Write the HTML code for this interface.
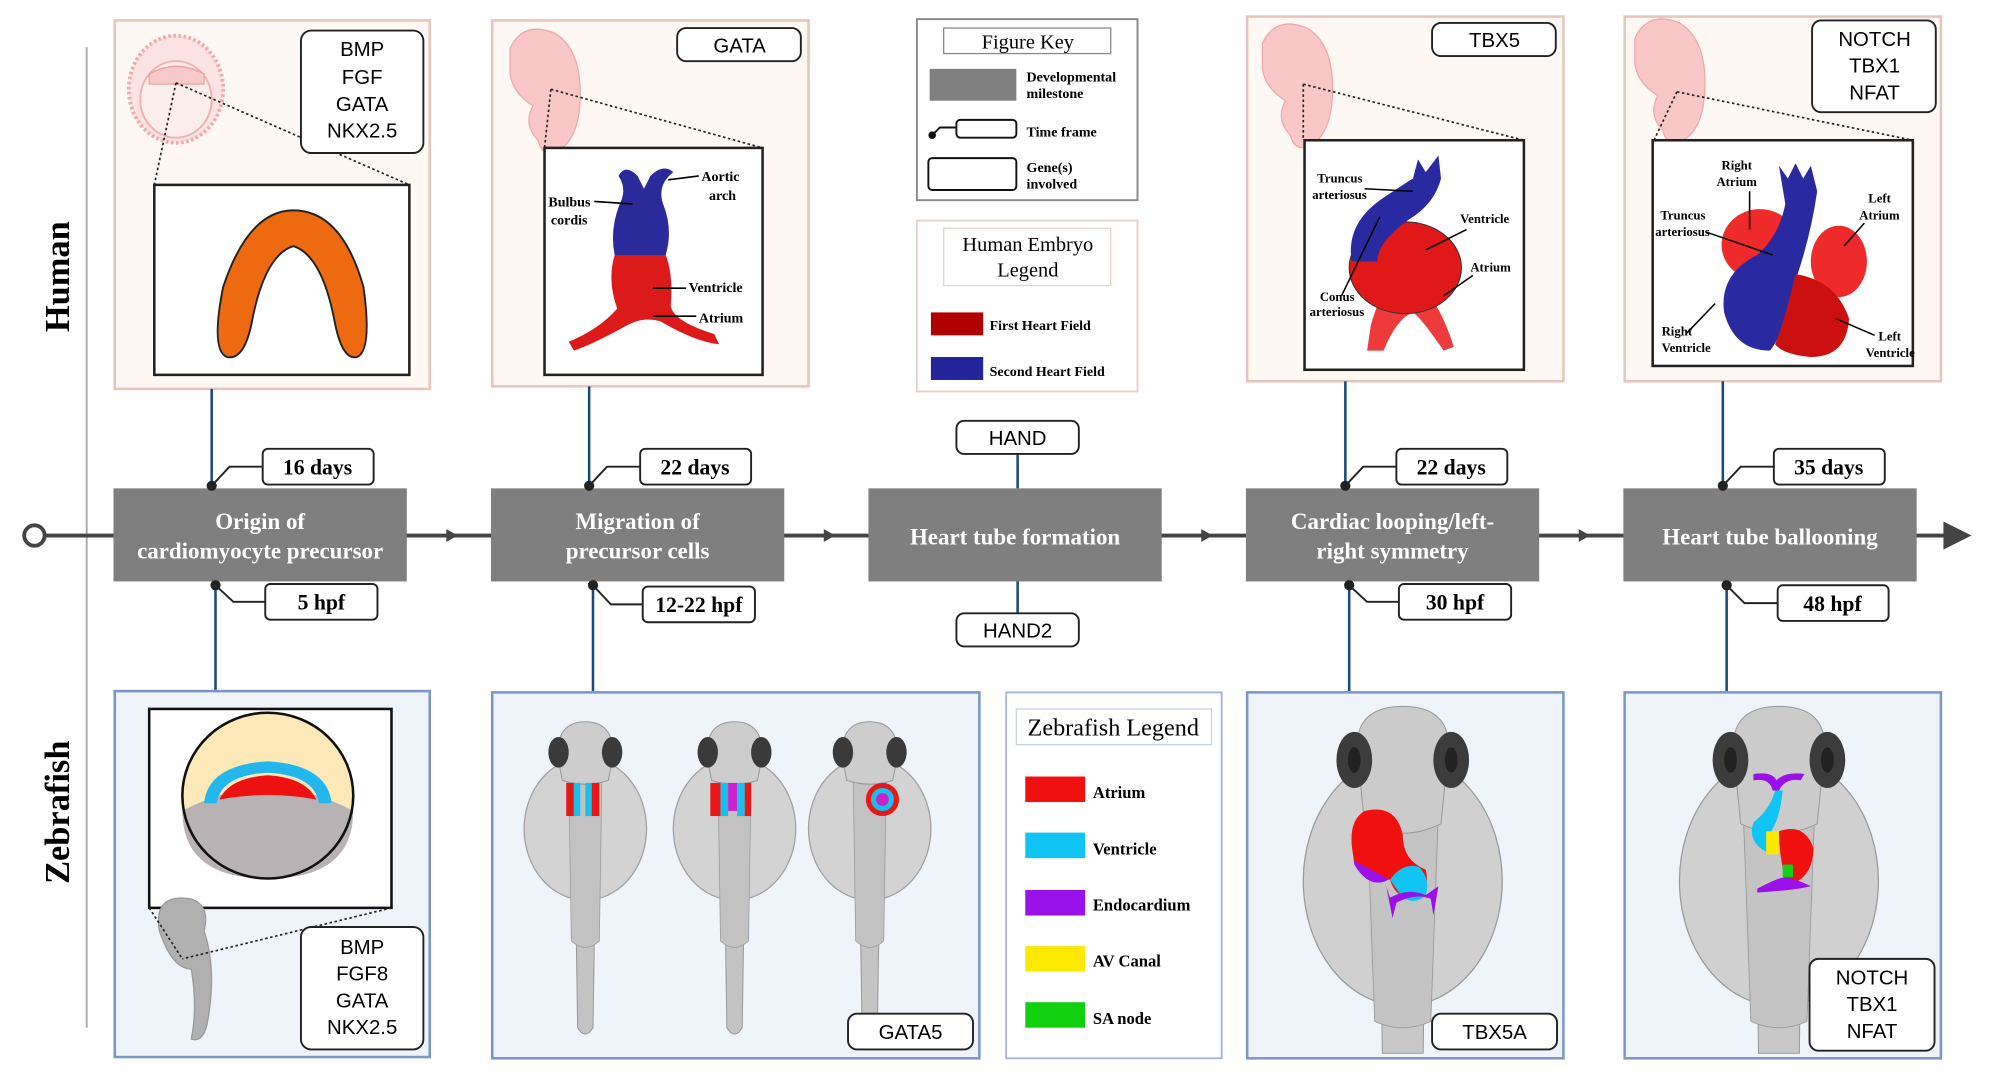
<!DOCTYPE html>
<html><head><meta charset="utf-8"><style>
html,body{margin:0;padding:0;background:#fff;}
svg{display:block;}
.ser{font-family:"Liberation Serif",serif;}
.san{font-family:"Liberation Sans",sans-serif;}
</style></head><body>
<svg width="1997" height="1080" viewBox="0 0 1566 847" preserveAspectRatio="none" xmlns="http://www.w3.org/2000/svg">
<defs>
<g id="fish">
 <path d="M-8,100 L-6,228 Q0,238 6,228 L8,100 Z" fill="#c4c4c4" stroke="#999" stroke-width="0.8"/>
 <ellipse cx="0" cy="72" rx="48" ry="56" fill="#d3d3d3" stroke="#a0a0a0" stroke-width="1"/>
 <path d="M-13,30 L-11,160 Q0,170 11,160 L13,30 Z" fill="#c2c2c2" stroke="#999" stroke-width="0.6"/>
 <path d="M-22,14 Q-22,-12 0,-12 Q22,-12 22,14 L18,34 Q0,40 -18,34 Z" fill="#cdcdcd" stroke="#999" stroke-width="0.8"/>
 <ellipse cx="-21" cy="12" rx="8" ry="12" fill="#3a3a3a"/>
 <ellipse cx="21" cy="12" rx="8" ry="12" fill="#3a3a3a"/>
</g>
<g id="bigfish">
 <path d="M-18,120 L-16,260 L16,260 L18,120 Z" fill="#c8c8c8" stroke="#999" stroke-width="0.8"/>
 <ellipse cx="0" cy="125" rx="78" ry="98" fill="#d0d0d0" stroke="#9a9a9a" stroke-width="1"/>
 <path d="M-28,70 L-22,235 Q0,245 22,235 L28,70 Z" fill="#c4c4c4" stroke="#9a9a9a" stroke-width="0.7"/>
 <path d="M-36,20 Q-36,-12 0,-12 Q36,-12 36,20 L30,80 Q0,95 -30,80 Z" fill="#cbcbcb" stroke="#999" stroke-width="0.8"/>
 <ellipse cx="-38" cy="30" rx="14" ry="22" fill="#3c3c3c"/>
 <ellipse cx="38" cy="30" rx="14" ry="22" fill="#3c3c3c"/>
 <ellipse cx="-38" cy="30" rx="5" ry="10" fill="#222"/>
 <ellipse cx="38" cy="30" rx="5" ry="10" fill="#222"/>
</g>
<g id="embryo">
 <path d="M0,10 Q10,-12 35,-2 Q55,10 55,45 Q55,80 38,90 Q25,96 22,82 Q10,70 18,55 Q2,45 0,30 Z" fill="#f9c7c7" stroke="#efa9a9" stroke-width="1"/>
</g>
</defs>

<line x1="68" y1="37" x2="68" y2="806" stroke="#a9a9a9" stroke-width="1.5"/>
<text class="ser" font-weight="bold" font-size="27" transform="translate(54,217) rotate(-90)" text-anchor="middle">Human</text>
<text class="ser" font-weight="bold" font-size="27" transform="translate(54,637) rotate(-90)" text-anchor="middle">Zebrafish</text>

<line x1="36" y1="420" x2="1528" y2="420" stroke="#444" stroke-width="3"/>
<circle cx="27" cy="420" r="8" fill="#fff" stroke="#444" stroke-width="3"/>
<polygon points="1524,409 1546,420 1524,431" fill="#444"/>
<polygon points="350,415 359,420 350,425" fill="#444"/>
<polygon points="646,415 655,420 646,425" fill="#444"/>
<polygon points="942,415 951,420 942,425" fill="#444"/>
<polygon points="1238,415 1247,420 1238,425" fill="#444"/>

<rect x="90" y="16" width="247" height="289" fill="#fdf8f4" stroke="#e6c6bb" stroke-width="2"/>
<rect x="386" y="16" width="248" height="287" fill="#fdf8f4" stroke="#e6c6bb" stroke-width="2"/>
<rect x="978" y="13" width="248" height="286" fill="#fdf8f4" stroke="#e6c6bb" stroke-width="2"/>
<rect x="1274" y="13" width="248" height="286" fill="#fdf8f4" stroke="#e6c6bb" stroke-width="2"/>

<ellipse cx="138" cy="70" rx="37" ry="42" fill="#fbe3e3" stroke="#f0a8a8" stroke-width="3" stroke-dasharray="2 2"/>
<ellipse cx="138" cy="78" rx="28" ry="30" fill="#fdeeee" stroke="#f2b0b0" stroke-width="1.5"/>
<path d="M117,58 Q138,46 160,58 L160,66 L117,66 Z" fill="#f6caca" stroke="#eea0a0"/>
<line x1="138" y1="65" x2="121" y2="145" stroke="#222" stroke-width="1.3" stroke-dasharray="2 2"/>
<line x1="138" y1="65" x2="321" y2="145" stroke="#222" stroke-width="1.3" stroke-dasharray="2 2"/>
<rect x="236" y="24" width="96" height="96" rx="8" fill="#fff" stroke="#222" stroke-width="1.5"/>
<text class="san" font-size="16" text-anchor="middle"><tspan x="284" y="44">BMP</tspan><tspan x="284" y="66">FGF</tspan><tspan x="284" y="87">GATA</tspan><tspan x="284" y="108">NKX2.5</tspan></text>
<rect x="121" y="145" width="200" height="149" fill="#fff" stroke="#222" stroke-width="2"/>
<path d="M178,280 Q165,275 175,225 Q195,165 230,165 Q268,165 285,225 Q292,275 280,280 Q268,283 262,250 Q252,200 230,193 Q208,200 198,250 Q192,283 178,280 Z" fill="#ee6a10" stroke="#222" stroke-width="1.5"/>

<use href="#embryo" x="400" y="28"/>
<line x1="432" y1="70" x2="427" y2="116" stroke="#222" stroke-width="1.3" stroke-dasharray="2 2"/>
<line x1="432" y1="70" x2="598" y2="116" stroke="#222" stroke-width="1.3" stroke-dasharray="2 2"/>
<rect x="531" y="22" width="97" height="26" rx="7" fill="#fff" stroke="#222" stroke-width="1.5"/>
<text class="san" font-size="16" x="580" y="41" text-anchor="middle">GATA</text>
<rect x="427" y="116" width="171" height="178" fill="#fff" stroke="#222" stroke-width="2"/>
<path d="M485,138 Q490,128 500,138 L505,148 L510,138 Q520,128 528,135 Q515,145 520,160 Q528,180 522,200 L482,200 Q478,180 486,160 Q492,148 485,138 Z" fill="#2a2a9a"/>
<path d="M482,200 L522,200 Q528,215 526,240 Q528,252 560,262 L564,270 Q545,268 518,252 Q505,248 492,255 Q465,270 450,275 L446,268 Q470,258 484,242 Q476,220 482,200 Z" fill="#dd1a1a"/>
<g class="ser" font-size="11" font-weight="bold"><text x="550" y="142">Aortic</text><text x="556" y="157">arch</text><text x="430" y="162">Bulbus</text><text x="432" y="176">cordis</text><text x="540" y="229">Ventricle</text><text x="548" y="253">Atrium</text></g>
<g stroke="#000" stroke-width="1.3"><line x1="524" y1="141" x2="548" y2="138"/><line x1="466" y1="158" x2="496" y2="160"/><line x1="512" y1="226" x2="538" y2="226"/><line x1="512" y1="248" x2="546" y2="248"/></g>

<use href="#embryo" x="990" y="24"/>
<line x1="1022" y1="66" x2="1022" y2="110" stroke="#222" stroke-width="1.3" stroke-dasharray="2 2"/>
<line x1="1022" y1="66" x2="1195" y2="110" stroke="#222" stroke-width="1.3" stroke-dasharray="2 2"/>
<rect x="1123" y="18" width="97" height="26" rx="7" fill="#fff" stroke="#222" stroke-width="1.5"/>
<text class="san" font-size="16" x="1172" y="37" text-anchor="middle">TBX5</text>
<rect x="1023" y="110" width="172" height="180" fill="#fff" stroke="#222" stroke-width="2"/>
<path d="M1075,255 Q1082,230 1090,225 L1115,225 Q1130,240 1140,272 L1132,275 Q1115,250 1108,245 Q1095,250 1085,275 L1072,275 Z" fill="#ee3a3a"/>
<ellipse cx="1102" cy="210" rx="44" ry="36" fill="#e01818" stroke="#333" stroke-width="0.8"/>
<path d="M1060,205 Q1055,175 1085,155 Q1100,145 1108,140 L1112,125 L1118,135 L1128,122 L1130,140 Q1125,160 1105,172 Q1080,190 1080,205 Z" fill="#2a2aa0"/>
<g class="ser" font-size="10" font-weight="bold"><text x="1033" y="143">Truncus</text><text x="1029" y="156">arteriosus</text><text x="1145" y="175">Ventricle</text><text x="1153" y="213">Atrium</text><text x="1035" y="236">Conus</text><text x="1027" y="248">arteriosus</text></g>
<g stroke="#000" stroke-width="1.2"><line x1="1070" y1="148" x2="1108" y2="150"/><line x1="1150" y1="180" x2="1118" y2="196"/><line x1="1155" y1="216" x2="1132" y2="232"/><line x1="1052" y1="232" x2="1082" y2="170"/></g>

<use href="#embryo" x="1282" y="20"/>
<line x1="1315" y1="72" x2="1297" y2="110" stroke="#222" stroke-width="1.3" stroke-dasharray="2 2"/>
<line x1="1315" y1="72" x2="1500" y2="110" stroke="#222" stroke-width="1.3" stroke-dasharray="2 2"/>
<rect x="1421" y="16" width="97" height="72" rx="7" fill="#fff" stroke="#222" stroke-width="1.5"/>
<text class="san" font-size="16" text-anchor="middle"><tspan x="1470" y="36">NOTCH</tspan><tspan x="1470" y="57">TBX1</tspan><tspan x="1470" y="78">NFAT</tspan></text>
<rect x="1296" y="110" width="204" height="177" fill="#fff" stroke="#222" stroke-width="2"/>
<ellipse cx="1380" cy="192" rx="30" ry="28" fill="#ee2a2a"/>
<ellipse cx="1442" cy="205" rx="22" ry="28" fill="#ee2a2a"/>
<path d="M1378,200 Q1395,185 1400,160 L1395,130 L1402,140 L1408,128 L1414,140 L1420,130 L1425,150 Q1420,185 1408,220 Q1400,260 1388,275 Q1360,275 1352,245 Q1348,215 1378,200 Z" fill="#2a2aa0"/>
<path d="M1408,215 Q1440,220 1450,250 Q1448,280 1420,280 Q1398,278 1392,270 Q1400,250 1408,215 Z" fill="#cc1010"/>
<g class="ser" font-size="10" font-weight="bold"><text x="1350" y="133">Right</text><text x="1346" y="146">Atrium</text><text x="1465" y="159">Left</text><text x="1458" y="172">Atrium</text><text x="1302" y="172">Truncus</text><text x="1298" y="185">arteriosus</text><text x="1303" y="263">Right</text><text x="1303" y="276">Ventricle</text><text x="1473" y="267">Left</text><text x="1463" y="280">Ventricle</text></g>
<g stroke="#000" stroke-width="1.2"><line x1="1372" y1="150" x2="1372" y2="180"/><line x1="1338" y1="182" x2="1390" y2="200"/><line x1="1462" y1="175" x2="1446" y2="193"/><line x1="1322" y1="262" x2="1345" y2="238"/><line x1="1470" y1="263" x2="1440" y2="250"/></g>

<g stroke="#1a4a7a" stroke-width="2"><line x1="166" y1="305" x2="166" y2="381"/><line x1="462" y1="303" x2="462" y2="381"/><line x1="1055" y1="299" x2="1055" y2="381"/><line x1="1351" y1="299" x2="1351" y2="381"/><line x1="798" y1="356" x2="798" y2="383"/><line x1="798" y1="456" x2="798" y2="481"/></g>
<g stroke="#1a4a7a" stroke-width="2"><line x1="169" y1="459" x2="169" y2="541"/><line x1="465" y1="459" x2="465" y2="542"/><line x1="1058" y1="459" x2="1058" y2="542"/><line x1="1354" y1="459" x2="1354" y2="542"/></g>

<g fill="#7f7f7f"><rect x="89" y="383" width="230" height="73"/><rect x="385" y="383" width="230" height="73"/><rect x="681" y="383" width="230" height="73"/><rect x="977" y="383" width="230" height="73"/><rect x="1273" y="383" width="230" height="73"/></g>
<g class="ser" font-size="18" font-weight="bold" fill="#fff" text-anchor="middle">
<text x="204" y="415">Origin of</text><text x="204" y="438">cardiomyocyte precursor</text>
<text x="500" y="415">Migration of</text><text x="500" y="438">precursor cells</text>
<text x="796" y="427">Heart tube formation</text>
<text x="1092" y="415">Cardiac looping/left-</text><text x="1092" y="438">right symmetry</text>
<text x="1388" y="427">Heart tube ballooning</text>
</g>

<g fill="none" stroke="#222" stroke-width="1.5">
<path d="M166,381 L180,366 L206,366"/><path d="M462,381 L476,366 L502,366"/><path d="M1055,381 L1069,366 L1095,366"/><path d="M1351,381 L1365,366 L1391,366"/>
<path d="M169,459 L183,472 L208,472"/><path d="M465,459 L479,474 L504,474"/><path d="M1058,459 L1072,472 L1097,472"/><path d="M1354,459 L1368,473 L1394,473"/>
</g>
<g fill="#222"><circle cx="166" cy="381" r="4"/><circle cx="462" cy="381" r="4"/><circle cx="1055" cy="381" r="4"/><circle cx="1351" cy="381" r="4"/><circle cx="169" cy="459" r="4"/><circle cx="465" cy="459" r="4"/><circle cx="1058" cy="459" r="4"/><circle cx="1354" cy="459" r="4"/></g>
<g fill="#fff" stroke="#222" stroke-width="1.5">
<rect x="206" y="352" width="87" height="28" rx="4"/><rect x="502" y="352" width="87" height="28" rx="4"/><rect x="1095" y="352" width="87" height="28" rx="4"/><rect x="1391" y="352" width="87" height="28" rx="4"/>
<rect x="208" y="458" width="88" height="28" rx="4"/><rect x="504" y="460" width="88" height="28" rx="4"/><rect x="1097" y="458" width="88" height="28" rx="4"/><rect x="1394" y="459" width="87" height="28" rx="4"/>
<rect x="750" y="330" width="96" height="26" rx="6"/><rect x="750" y="481" width="96" height="26" rx="6"/>
</g>
<g class="ser" font-size="17" font-weight="bold" text-anchor="middle">
<text x="249" y="372">16 days</text><text x="545" y="372">22 days</text><text x="1138" y="372">22 days</text><text x="1434" y="372">35 days</text>
<text x="252" y="478">5 hpf</text><text x="548" y="480">12-22 hpf</text><text x="1141" y="478">30 hpf</text><text x="1437" y="479">48 hpf</text>
</g>
<g class="san" font-size="16" text-anchor="middle"><text x="798" y="349">HAND</text><text x="798" y="500">HAND2</text></g>

<rect x="719" y="15" width="173" height="142" fill="#fff" stroke="#888" stroke-width="1.5"/>
<rect x="740" y="22" width="131" height="20" fill="#fff" stroke="#888"/>
<text class="ser" font-size="16" x="806" y="38" text-anchor="middle">Figure Key</text>
<rect x="729" y="54" width="68" height="25" fill="#808080"/>
<rect x="750" y="94" width="47" height="14" rx="3" fill="#fff" stroke="#111" stroke-width="1.5"/>
<path d="M731,106 L737,100 L750,100" fill="none" stroke="#111" stroke-width="1.5"/><circle cx="731" cy="106" r="3" fill="#111"/>
<rect x="728" y="124" width="69" height="25" rx="3" fill="#fff" stroke="#111" stroke-width="1.5"/>
<g class="ser" font-size="11" font-weight="bold"><text x="805" y="64">Developmental</text><text x="805" y="77">milestone</text><text x="805" y="107">Time frame</text><text x="805" y="135">Gene(s)</text><text x="805" y="148">involved</text></g>

<rect x="719" y="173" width="173" height="134" fill="#fff" stroke="#e6d2cc" stroke-width="1.5"/>
<rect x="740" y="179" width="131" height="45" fill="#fff" stroke="#e6d2cc"/>
<text class="ser" font-size="16" text-anchor="middle"><tspan x="806" y="197">Human Embryo</tspan><tspan x="806" y="217">Legend</tspan></text>
<rect x="730" y="245" width="41" height="18" fill="#b00000"/>
<rect x="730" y="280" width="41" height="18" fill="#23239a"/>
<g class="ser" font-size="11" font-weight="bold"><text x="776" y="259">First Heart Field</text><text x="776" y="295">Second Heart Field</text></g>

<g fill="#eff3fa" stroke="#7b98c5" stroke-width="2">
<rect x="90" y="542" width="247" height="287"/><rect x="386" y="543" width="382" height="287"/><rect x="978" y="543" width="248" height="287"/><rect x="1274" y="543" width="248" height="287"/>
</g>
<rect x="789" y="543" width="169" height="287" fill="#fff" stroke="#a8b8d8" stroke-width="1.5"/>

<rect x="117" y="556" width="190" height="156" fill="#fff" stroke="#111" stroke-width="2"/>
<ellipse cx="210" cy="624" rx="67" ry="65" fill="#fde9b8"/>
<path d="M143,636 Q210,600 277,636 Q277,689 210,689 Q143,689 143,636 Z" fill="#b8b2b4"/>
<path d="M160,630 Q163,600 210,597 Q257,600 260,630 L250,630 Q247,608 210,606 Q173,608 170,630 Z" fill="#22b8ee"/>
<path d="M172,627 Q180,610 210,608 Q240,610 248,627 Q210,620 172,627 Z" fill="#ee1111"/>
<ellipse cx="210" cy="624" rx="67" ry="65" fill="none" stroke="#111" stroke-width="2"/>
<path d="M150,705 Q120,700 125,730 Q135,760 150,760 Q155,790 150,815 Q160,818 163,800 Q170,760 160,730 Q165,710 150,705 Z" fill="#b0b0b0" stroke="#999"/>
<line x1="117" y1="712" x2="143" y2="752" stroke="#222" stroke-width="1.3" stroke-dasharray="2 2"/>
<line x1="307" y1="712" x2="143" y2="752" stroke="#222" stroke-width="1.3" stroke-dasharray="2 2"/>
<rect x="236" y="727" width="96" height="96" rx="8" fill="#fff" stroke="#222" stroke-width="1.5"/>
<text class="san" font-size="16" text-anchor="middle"><tspan x="284" y="748">BMP</tspan><tspan x="284" y="769">FGF8</tspan><tspan x="284" y="790">GATA</tspan><tspan x="284" y="811">NKX2.5</tspan></text>

<use href="#fish" x="459" y="578"/>
<use href="#fish" x="576" y="578"/>
<use href="#fish" x="682" y="578"/>
<g><rect x="444" y="614" width="6" height="26" fill="#e81818"/><rect x="450" y="614" width="5" height="26" fill="#18c0ee"/><rect x="459" y="614" width="5" height="26" fill="#18c0ee"/><rect x="464" y="614" width="6" height="26" fill="#e81818"/></g>
<g><rect x="557" y="614" width="8" height="26" fill="#e81818"/><rect x="565" y="614" width="6" height="26" fill="#18c0ee"/><rect x="571" y="614" width="7" height="22" fill="#cc22cc"/><rect x="578" y="614" width="6" height="26" fill="#18c0ee"/><rect x="584" y="614" width="5" height="26" fill="#e81818"/></g>
<circle cx="692" cy="627" r="13" fill="#e81818"/><circle cx="692" cy="627" r="9" fill="#18c0ee"/><circle cx="692" cy="627" r="5" fill="#cc22cc"/>
<rect x="665" y="795" width="98" height="28" rx="7" fill="#fff" stroke="#222" stroke-width="1.5"/>
<text class="san" font-size="16" x="714" y="815" text-anchor="middle">GATA5</text>

<rect x="797" y="556" width="153" height="28" fill="#fff" stroke="#c8d0e8"/>
<text class="ser" font-size="19" x="873" y="577" text-anchor="middle">Zebrafish Legend</text>
<g><rect x="804" y="609" width="47" height="20" fill="#f01010"/><rect x="804" y="653" width="47" height="20" fill="#10c4f4"/><rect x="804" y="698" width="47" height="20" fill="#9a10e8"/><rect x="804" y="742" width="47" height="20" fill="#fde800"/><rect x="804" y="786" width="47" height="20" fill="#10d010"/></g>
<g class="ser" font-size="13" font-weight="bold"><text x="857" y="626">Atrium</text><text x="857" y="670">Ventricle</text><text x="857" y="714">Endocardium</text><text x="857" y="758">AV Canal</text><text x="857" y="803">SA node</text></g>

<use href="#bigfish" x="1100" y="566"/>
<path d="M1070,640 Q1058,650 1062,678 Q1075,700 1092,688 Q1080,660 1088,645 Q1080,635 1070,640 Z" fill="#9a10e8"/>
<path d="M1070,636 Q1095,630 1100,655 Q1100,675 1118,682 Q1122,700 1110,704 Q1095,706 1090,690 Q1080,685 1062,675 Q1055,645 1070,636 Z" fill="#f01010"/>
<path d="M1090,690 Q1100,676 1113,680 Q1122,690 1118,702 Q1110,710 1100,704 Z" fill="#10c4f4"/>
<path d="M1087,695 L1092,720 L1095,708 Q1110,700 1122,705 L1124,718 L1128,695 L1118,702 Q1105,696 1090,704 Z" fill="#9a10e8"/>
<rect x="1123" y="795" width="98" height="28" rx="7" fill="#fff" stroke="#222" stroke-width="1.5"/>
<text class="san" font-size="16" x="1172" y="815" text-anchor="middle">TBX5A</text>

<use href="#bigfish" x="1395" y="566"/>
<path d="M1375,607 Q1390,605 1393,612 Q1400,605 1415,607 L1412,612 Q1400,610 1395,620 L1390,620 Q1388,610 1375,612 Z" fill="#9a10e8"/>
<path d="M1392,620 L1398,620 Q1396,640 1390,650 Q1385,660 1392,665 L1385,668 Q1370,660 1375,645 Q1388,635 1392,620 Z" fill="#10c4f4"/>
<rect x="1385" y="652" width="10" height="18" fill="#fde800"/>
<path d="M1395,652 Q1415,645 1422,665 Q1422,685 1408,692 L1400,690 Q1395,670 1395,652 Z" fill="#f01010"/>
<rect x="1398" y="678" width="8" height="10" fill="#10d010"/>
<path d="M1378,697 Q1395,688 1400,688 Q1410,690 1420,695 Q1410,698 1378,700 Z" fill="#9a10e8"/>
<rect x="1419" y="752" width="98" height="72" rx="7" fill="#fff" stroke="#222" stroke-width="1.5"/>
<text class="san" font-size="16" text-anchor="middle"><tspan x="1468" y="772">NOTCH</tspan><tspan x="1468" y="793">TBX1</tspan><tspan x="1468" y="814">NFAT</tspan></text>
</svg>
</body></html>
